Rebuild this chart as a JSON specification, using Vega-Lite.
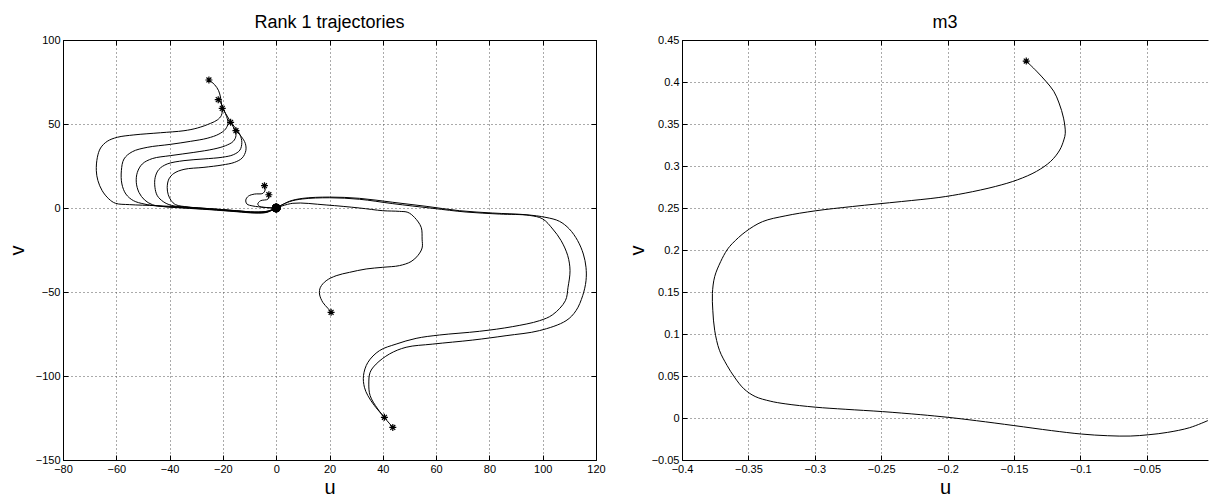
{
  "$schema": "https://vega.github.io/schema/vega-lite/v6.json",
  "padding": {"left": 7, "top": 14, "right": 0, "bottom": 0},
  "background": "white",
  "bounds": "flush",
  "spacing": 86,
  "config": {
    "view": {"stroke": null},
    "font": "Liberation Sans",
    "axis": {
      "domainColor": "#000", "domainWidth": 1,
      "tickColor": "#000", "tickSize": -5, "tickWidth": 1,
      "labelPadding": 8, "labelFontSize": 11, "labelColor": "#000", "labelFont": "Liberation Sans",
      "labelFlush": false, "labelOverlap": false,
      "titleFont": "Liberation Sans", "titleFontSize": 20, "titleFontWeight": "normal", "titleColor": "#000",
      "gridColor": "#555", "gridDash": [1, 3], "gridWidth": 1, "gridOpacity": 1
    },
    "title": {"fontSize": 18, "font": "Liberation Sans", "fontWeight": "normal", "color": "#000", "anchor": "middle", "baseline": "alphabetic", "offset": 2}
  },
  "datasets": {
    "left": [
      {"t":"A","i":0,"u":-25.25,"v":76.2},{"t":"A","i":1,"u":-23.1,"v":73.4},{"t":"A","i":2,"u":-21.6,"v":69.8},{"t":"A","i":3,"u":-20.9,"v":65.9},{"t":"A","i":4,"u":-20.5,"v":61.9},{"t":"A","i":5,"u":-20.25,"v":57.9},{"t":"A","i":6,"u":-20.6,"v":55.0},{"t":"A","i":7,"u":-22.1,"v":52.4},{"t":"A","i":8,"u":-24.6,"v":50.4},{"t":"A","i":9,"u":-29.6,"v":47.6},{"t":"A","i":10,"u":-34.6,"v":46.0},{"t":"A","i":11,"u":-43.4,"v":44.8},{"t":"A","i":12,"u":-53.4,"v":43.5},{"t":"A","i":13,"u":-59.6,"v":42.1},{"t":"A","i":14,"u":-63.4,"v":39.7},{"t":"A","i":15,"u":-65.9,"v":35.7},{"t":"A","i":16,"u":-67.1,"v":30.2},{"t":"A","i":17,"u":-67.5,"v":22.2},{"t":"A","i":18,"u":-66.9,"v":16.3},{"t":"A","i":19,"u":-65.3,"v":10.3},{"t":"A","i":20,"u":-62.8,"v":5.4},{"t":"A","i":21,"u":-60.3,"v":2.8},{"t":"A","i":22,"u":-55,"v":2.0},{"t":"A","i":23,"u":-45,"v":1.4},{"t":"A","i":24,"u":-35,"v":0.6},{"t":"A","i":25,"u":-25,"v":-0.4},{"t":"A","i":26,"u":-15,"v":-1.6},{"t":"A","i":27,"u":-8,"v":-2.4},{"t":"A","i":28,"u":-3,"v":-1.8},{"t":"A","i":29,"u":0,"v":0},
      {"t":"B","i":0,"u":-21.75,"v":64.5},{"t":"B","i":1,"u":-20.6,"v":61.9},{"t":"B","i":2,"u":-19.6,"v":58.3},{"t":"B","i":3,"u":-18.6,"v":54.4},{"t":"B","i":4,"u":-18.1,"v":50.4},{"t":"B","i":5,"u":-19.0,"v":47.0},{"t":"B","i":6,"u":-21.5,"v":44.0},{"t":"B","i":7,"u":-25.9,"v":41.5},{"t":"B","i":8,"u":-32.1,"v":39.7},{"t":"B","i":9,"u":-39.6,"v":37.9},{"t":"B","i":10,"u":-48.4,"v":36.1},{"t":"B","i":11,"u":-54.0,"v":33.5},{"t":"B","i":12,"u":-57.1,"v":29.2},{"t":"B","i":13,"u":-58.1,"v":22.2},{"t":"B","i":14,"u":-57.9,"v":14.3},{"t":"B","i":15,"u":-56.4,"v":8.3},{"t":"B","i":16,"u":-53.6,"v":4.4},{"t":"B","i":17,"u":-49.6,"v":2.4},{"t":"B","i":18,"u":-44.6,"v":1.2},{"t":"B","i":19,"u":-35,"v":0.2},{"t":"B","i":20,"u":-25,"v":-0.8},{"t":"B","i":21,"u":-15,"v":-2.0},{"t":"B","i":22,"u":-8,"v":-2.8},{"t":"B","i":23,"u":-3.5,"v":-2.4},{"t":"B","i":24,"u":0,"v":0},
      {"t":"C","i":0,"u":-20.25,"v":59.3},{"t":"C","i":1,"u":-19.0,"v":56.3},{"t":"C","i":2,"u":-17.4,"v":52.0},{"t":"C","i":3,"u":-15.9,"v":47.6},{"t":"C","i":4,"u":-15.1,"v":43.1},{"t":"C","i":5,"u":-16.1,"v":39.7},{"t":"C","i":6,"u":-19.0,"v":37.1},{"t":"C","i":7,"u":-23.4,"v":35.1},{"t":"C","i":8,"u":-30.9,"v":33.1},{"t":"C","i":9,"u":-39.6,"v":31.2},{"t":"C","i":10,"u":-46.5,"v":29.4},{"t":"C","i":11,"u":-50.25,"v":26.2},{"t":"C","i":12,"u":-52.1,"v":21.2},{"t":"C","i":13,"u":-52.5,"v":15.3},{"t":"C","i":14,"u":-51.5,"v":9.3},{"t":"C","i":15,"u":-49.4,"v":4.8},{"t":"C","i":16,"u":-46.5,"v":2.0},{"t":"C","i":17,"u":-42.1,"v":0.8},{"t":"C","i":18,"u":-35,"v":0.0},{"t":"C","i":19,"u":-25,"v":-1.0},{"t":"C","i":20,"u":-15,"v":-2.2},{"t":"C","i":21,"u":-8,"v":-3.0},{"t":"C","i":22,"u":-3.5,"v":-2.6},{"t":"C","i":23,"u":0,"v":0},
      {"t":"D","i":0,"u":-17.1,"v":51.0},{"t":"D","i":1,"u":-15.25,"v":47.6},{"t":"D","i":2,"u":-13.6,"v":43.7},{"t":"D","i":3,"u":-12.9,"v":39.1},{"t":"D","i":4,"u":-13.6,"v":34.5},{"t":"D","i":5,"u":-16.1,"v":31.7},{"t":"D","i":6,"u":-20.25,"v":30.2},{"t":"D","i":7,"u":-27.1,"v":29.2},{"t":"D","i":8,"u":-34.6,"v":28.2},{"t":"D","i":9,"u":-40.9,"v":26.2},{"t":"D","i":10,"u":-44.0,"v":23.0},{"t":"D","i":11,"u":-45.4,"v":18.3},{"t":"D","i":12,"u":-45.5,"v":12.3},{"t":"D","i":13,"u":-44.6,"v":7.3},{"t":"D","i":14,"u":-42.4,"v":3.8},{"t":"D","i":15,"u":-39.4,"v":1.6},{"t":"D","i":16,"u":-33,"v":0.4},{"t":"D","i":17,"u":-25,"v":-0.6},{"t":"D","i":18,"u":-15,"v":-1.8},{"t":"D","i":19,"u":-8,"v":-2.6},{"t":"D","i":20,"u":-3.5,"v":-2.2},{"t":"D","i":21,"u":0,"v":0},
      {"t":"E","i":0,"u":-15.1,"v":46.0},{"t":"E","i":1,"u":-13.1,"v":42.5},{"t":"E","i":2,"u":-11.6,"v":38.5},{"t":"E","i":3,"u":-11.4,"v":34.1},{"t":"E","i":4,"u":-12.75,"v":29.8},{"t":"E","i":5,"u":-15.6,"v":27.2},{"t":"E","i":6,"u":-20.25,"v":25.6},{"t":"E","i":7,"u":-27.1,"v":24.2},{"t":"E","i":8,"u":-34.6,"v":23.0},{"t":"E","i":9,"u":-38.4,"v":20.6},{"t":"E","i":10,"u":-40.25,"v":17.3},{"t":"E","i":11,"u":-40.9,"v":12.3},{"t":"E","i":12,"u":-40.5,"v":7.9},{"t":"E","i":13,"u":-39.4,"v":4.4},{"t":"E","i":14,"u":-37.75,"v":2.0},{"t":"E","i":15,"u":-33,"v":0.6},{"t":"E","i":16,"u":-25,"v":-0.4},{"t":"E","i":17,"u":-15,"v":-1.6},{"t":"E","i":18,"u":-8,"v":-2.4},{"t":"E","i":19,"u":-3.5,"v":-2.0},{"t":"E","i":20,"u":0,"v":0},
      {"t":"L1","i":0,"u":-4.4,"v":13.3},{"t":"L1","i":1,"u":-4.15,"v":10.7},{"t":"L1","i":2,"u":-5.0,"v":8.7},{"t":"L1","i":3,"u":-8.1,"v":8.3},{"t":"L1","i":4,"u":-10.4,"v":7.1},{"t":"L1","i":5,"u":-11.4,"v":4.8},{"t":"L1","i":6,"u":-11.0,"v":2.4},{"t":"L1","i":7,"u":-8.75,"v":1.2},{"t":"L1","i":8,"u":-4.4,"v":0.4},{"t":"L1","i":9,"u":-1.25,"v":0},{"t":"L1","i":10,"u":0,"v":0},
      {"t":"L2","i":0,"u":-2.75,"v":7.9},{"t":"L2","i":1,"u":-3.1,"v":5.3},{"t":"L2","i":2,"u":-5.9,"v":4.3},{"t":"L2","i":3,"u":-6.9,"v":2.4},{"t":"L2","i":4,"u":-6.1,"v":0.8},{"t":"L2","i":5,"u":-3.1,"v":0.2},{"t":"L2","i":6,"u":0,"v":0},
      {"t":"F","i":0,"u":20.6,"v":-62.1},{"t":"F","i":1,"u":19.4,"v":-59.7},{"t":"F","i":2,"u":17.5,"v":-56.2},{"t":"F","i":3,"u":16.25,"v":-51.2},{"t":"F","i":4,"u":16.6,"v":-47.2},{"t":"F","i":5,"u":18.75,"v":-43.3},{"t":"F","i":6,"u":22.5,"v":-40.3},{"t":"F","i":7,"u":27.5,"v":-38.3},{"t":"F","i":8,"u":33.75,"v":-36.3},{"t":"F","i":9,"u":40,"v":-35.3},{"t":"F","i":10,"u":46.25,"v":-34.3},{"t":"F","i":11,"u":50.6,"v":-31.9},{"t":"F","i":12,"u":53.1,"v":-28.4},{"t":"F","i":13,"u":54.75,"v":-23.8},{"t":"F","i":14,"u":54.75,"v":-18.5},{"t":"F","i":15,"u":54.4,"v":-11.5},{"t":"F","i":16,"u":51.9,"v":-5.6},{"t":"F","i":17,"u":49.4,"v":-2.6},{"t":"F","i":18,"u":46.25,"v":-2.0},{"t":"F","i":19,"u":40,"v":-1.6},{"t":"F","i":20,"u":31.25,"v":0},{"t":"F","i":21,"u":18.75,"v":1.8},{"t":"F","i":22,"u":6.25,"v":2.8},{"t":"F","i":23,"u":0,"v":0},
      {"t":"G","i":0,"u":43.75,"v":-130.6},{"t":"G","i":1,"u":38.1,"v":-119.6},{"t":"G","i":2,"u":35.25,"v":-111.7},{"t":"G","i":3,"u":34.75,"v":-104.8},{"t":"G","i":4,"u":35.25,"v":-97.8},{"t":"G","i":5,"u":37.5,"v":-92.9},{"t":"G","i":6,"u":42.5,"v":-86.9},{"t":"G","i":7,"u":48.75,"v":-82.9},{"t":"G","i":8,"u":58.75,"v":-81.0},{"t":"G","i":9,"u":73.75,"v":-78.6},{"t":"G","i":10,"u":86.25,"v":-76.0},{"t":"G","i":11,"u":98.75,"v":-73.0},{"t":"G","i":12,"u":108.75,"v":-67.1},{"t":"G","i":13,"u":112.5,"v":-61.1},{"t":"G","i":14,"u":115,"v":-52.2},{"t":"G","i":15,"u":116.25,"v":-43.3},{"t":"G","i":16,"u":116.25,"v":-35.3},{"t":"G","i":17,"u":115.25,"v":-27.4},{"t":"G","i":18,"u":113.1,"v":-19.4},{"t":"G","i":19,"u":110,"v":-12.5},{"t":"G","i":20,"u":106.25,"v":-7.9},{"t":"G","i":21,"u":101.25,"v":-5.6},{"t":"G","i":22,"u":93.75,"v":-4.0},{"t":"G","i":23,"u":81.25,"v":-3.0},{"t":"G","i":24,"u":68.75,"v":-1.6},{"t":"G","i":25,"u":56.25,"v":1.0},{"t":"G","i":26,"u":43.75,"v":3.4},{"t":"G","i":27,"u":31.25,"v":5.75},{"t":"G","i":28,"u":20,"v":6.5},{"t":"G","i":29,"u":10,"v":5.75},{"t":"G","i":30,"u":5,"v":4.0},{"t":"G","i":31,"u":0,"v":0},
      {"t":"H","i":0,"u":40.6,"v":-124.6},{"t":"H","i":1,"u":36.9,"v":-117.7},{"t":"H","i":2,"u":34.4,"v":-111.7},{"t":"H","i":3,"u":33.1,"v":-106.7},{"t":"H","i":4,"u":32.75,"v":-99.8},{"t":"H","i":5,"u":34.4,"v":-91.9},{"t":"H","i":6,"u":38.75,"v":-84.9},{"t":"H","i":7,"u":45,"v":-81.0},{"t":"H","i":8,"u":52.5,"v":-77.6},{"t":"H","i":9,"u":61.25,"v":-75.6},{"t":"H","i":10,"u":76.25,"v":-73.4},{"t":"H","i":11,"u":88.75,"v":-70.6},{"t":"H","i":12,"u":98.75,"v":-67.1},{"t":"H","i":13,"u":103.75,"v":-63.5},{"t":"H","i":14,"u":108.5,"v":-55.2},{"t":"H","i":15,"u":109.5,"v":-47.2},{"t":"H","i":16,"u":110.25,"v":-37.3},{"t":"H","i":17,"u":109.4,"v":-28.4},{"t":"H","i":18,"u":106.9,"v":-19.4},{"t":"H","i":19,"u":103.75,"v":-12.5},{"t":"H","i":20,"u":100,"v":-6.5},{"t":"H","i":21,"u":95,"v":-4.4},{"t":"H","i":22,"u":83.75,"v":-3.6},{"t":"H","i":23,"u":71.25,"v":-2.4},{"t":"H","i":24,"u":58.75,"v":-0.2},{"t":"H","i":25,"u":43.75,"v":2.6},{"t":"H","i":26,"u":31.25,"v":5.2},{"t":"H","i":27,"u":20,"v":6.1},{"t":"H","i":28,"u":10,"v":5.4},{"t":"H","i":29,"u":5,"v":3.8},{"t":"H","i":30,"u":0,"v":0}
    ],
    "right": [
      {"t":"m3","i":0,"u":-0.1407,"v":0.4249},{"t":"m3","i":1,"u":-0.133,"v":0.413},{"t":"m3","i":2,"u":-0.126,"v":0.401},{"t":"m3","i":3,"u":-0.12,"v":0.389},{"t":"m3","i":4,"u":-0.116,"v":0.375},{"t":"m3","i":5,"u":-0.1126,"v":0.357},{"t":"m3","i":6,"u":-0.1113,"v":0.339},{"t":"m3","i":7,"u":-0.1124,"v":0.331},{"t":"m3","i":8,"u":-0.1155,"v":0.319},{"t":"m3","i":9,"u":-0.1223,"v":0.3055},{"t":"m3","i":10,"u":-0.133,"v":0.2936},{"t":"m3","i":11,"u":-0.1472,"v":0.2836},{"t":"m3","i":12,"u":-0.164,"v":0.2756},{"t":"m3","i":13,"u":-0.1867,"v":0.2677},{"t":"m3","i":14,"u":-0.2065,"v":0.2625},{"t":"m3","i":15,"u":-0.2347,"v":0.2577},{"t":"m3","i":16,"u":-0.2715,"v":0.2518},{"t":"m3","i":17,"u":-0.2997,"v":0.2466},{"t":"m3","i":18,"u":-0.3223,"v":0.2406},{"t":"m3","i":19,"u":-0.3393,"v":0.2338},{"t":"m3","i":20,"u":-0.352,"v":0.2219},{"t":"m3","i":21,"u":-0.3619,"v":0.208},{"t":"m3","i":22,"u":-0.3661,"v":0.2},{"t":"m3","i":23,"u":-0.3709,"v":0.1861},{"t":"m3","i":24,"u":-0.3754,"v":0.1682},{"t":"m3","i":25,"u":-0.3771,"v":0.1482},{"t":"m3","i":26,"u":-0.3768,"v":0.1283},{"t":"m3","i":27,"u":-0.3754,"v":0.1045},{"t":"m3","i":28,"u":-0.3718,"v":0.0806},{"t":"m3","i":29,"u":-0.3661,"v":0.0627},{"t":"m3","i":30,"u":-0.3605,"v":0.0487},{"t":"m3","i":31,"u":-0.3534,"v":0.0348},{"t":"m3","i":32,"u":-0.3449,"v":0.0256},{"t":"m3","i":33,"u":-0.3336,"v":0.0201},{"t":"m3","i":34,"u":-0.3223,"v":0.0169},{"t":"m3","i":35,"u":-0.2997,"v":0.0129},{"t":"m3","i":36,"u":-0.2771,"v":0.0104},{"t":"m3","i":37,"u":-0.2489,"v":0.0076},{"t":"m3","i":38,"u":-0.2206,"v":0.004},{"t":"m3","i":39,"u":-0.1997,"v":0.0008},{"t":"m3","i":40,"u":-0.1782,"v":-0.0032},{"t":"m3","i":41,"u":-0.15,"v":-0.009},{"t":"m3","i":42,"u":-0.1217,"v":-0.015},{"t":"m3","i":43,"u":-0.0992,"v":-0.0191},{"t":"m3","i":44,"u":-0.0794,"v":-0.0211},{"t":"m3","i":45,"u":-0.0624,"v":-0.0215},{"t":"m3","i":46,"u":-0.0483,"v":-0.0199},{"t":"m3","i":47,"u":-0.0342,"v":-0.0171},{"t":"m3","i":48,"u":-0.0176,"v":-0.0115},{"t":"m3","i":49,"u":-0.0038,"v":-0.003}
    ]
  },
  "hconcat": [
    {
      "width": 533, "height": 420,
      "title": "Rank 1 trajectories",
      "data": {"name": "left"},
      "layer": [
        {
          "mark": {"type": "line", "interpolate": "catmull-rom", "color": "#000", "strokeWidth": 1},
          "encoding": {
            "x": {"field": "u", "type": "quantitative", "scale": {"domain": [-80, 120], "nice": false, "zero": false},
                  "axis": {"orient": "bottom", "values": [-80,-60,-40,-20,0,20,40,60,80,100,120], "format": "d", "title": "u", "titleY": 33.5, "titleBaseline": "alphabetic", "grid": true}},
            "y": {"field": "v", "type": "quantitative", "scale": {"domain": [-150, 100], "nice": false, "zero": false},
                  "axis": {"orient": "left", "values": [-150,-100,-50,0,50,100], "format": "d", "title": "v", "titleX": -40, "titleBaseline": "alphabetic", "titleAngle": 270, "grid": true}},
            "detail": {"field": "t"},
            "order": {"field": "i", "type": "quantitative"}
          }
        },
        {
          "transform": [{"filter": "datum.i == 0"}],
          "mark": {"type": "point", "shape": "M-1,0L1,0M0,-1L0,1M-0.7,-0.7L0.7,0.7M-0.7,0.7L0.7,-0.7", "filled": false, "stroke": "#000", "strokeWidth": 1.2, "size": 49, "opacity": 1},
          "encoding": {
            "x": {"field": "u", "type": "quantitative", "axis": null},
            "y": {"field": "v", "type": "quantitative", "axis": null}
          }
        },
        {
          "transform": [{"filter": "datum.u == 0 && datum.v == 0"}],
          "mark": {"type": "circle", "color": "#000", "size": 75, "opacity": 1},
          "encoding": {
            "x": {"field": "u", "type": "quantitative", "axis": null},
            "y": {"field": "v", "type": "quantitative", "axis": null}
          }
        },
        {
          "mark": {"type": "point", "opacity": 0},
          "encoding": {
            "x": {"field": "u", "type": "quantitative", "axis": {"orient": "top", "values": [-80,-60,-40,-20,0,20,40,60,80,100,120], "labels": false, "title": null, "grid": false}},
            "y": {"field": "v", "type": "quantitative", "axis": {"orient": "right", "values": [-150,-100,-50,0,50,100], "labels": false, "title": null, "grid": false}}
          }
        }
      ],
      "resolve": {"axis": {"x": "independent", "y": "independent"}}
    },
    {
      "width": 526, "height": 420,
      "title": "m3",
      "data": {"name": "right"},
      "layer": [
        {
          "mark": {"type": "line", "interpolate": "catmull-rom", "color": "#000", "strokeWidth": 1},
          "encoding": {
            "x": {"field": "u", "type": "quantitative", "scale": {"domain": [-0.4, -0.0038], "nice": false, "zero": false},
                  "axis": {"orient": "bottom", "values": [-0.4,-0.35,-0.3,-0.25,-0.2,-0.15,-0.1,-0.05], "format": "~g", "title": "u", "titleY": 33.5, "titleBaseline": "alphabetic", "grid": true}},
            "y": {"field": "v", "type": "quantitative", "scale": {"domain": [-0.05, 0.45], "nice": false, "zero": false},
                  "axis": {"orient": "left", "values": [-0.05,0,0.05,0.1,0.15,0.2,0.25,0.3,0.35,0.4,0.45], "format": "~g", "title": "v", "titleX": -39, "titleBaseline": "alphabetic", "titleAngle": 270, "grid": true}},
            "detail": {"field": "t"},
            "order": {"field": "i", "type": "quantitative"}
          }
        },
        {
          "transform": [{"filter": "datum.i == 0"}],
          "mark": {"type": "point", "shape": "M-1,0L1,0M0,-1L0,1M-0.7,-0.7L0.7,0.7M-0.7,0.7L0.7,-0.7", "filled": false, "stroke": "#000", "strokeWidth": 1.2, "size": 49, "opacity": 1},
          "encoding": {
            "x": {"field": "u", "type": "quantitative", "axis": null},
            "y": {"field": "v", "type": "quantitative", "axis": null}
          }
        },
        {
          "mark": {"type": "point", "opacity": 0},
          "encoding": {
            "x": {"field": "u", "type": "quantitative", "axis": {"orient": "top", "values": [-0.4,-0.35,-0.3,-0.25,-0.2,-0.15,-0.1,-0.05], "labels": false, "title": null, "grid": false}},
            "y": {"field": "v", "type": "quantitative", "axis": null}
          }
        }
      ],
      "resolve": {"axis": {"x": "independent", "y": "independent"}}
    }
  ]
}
